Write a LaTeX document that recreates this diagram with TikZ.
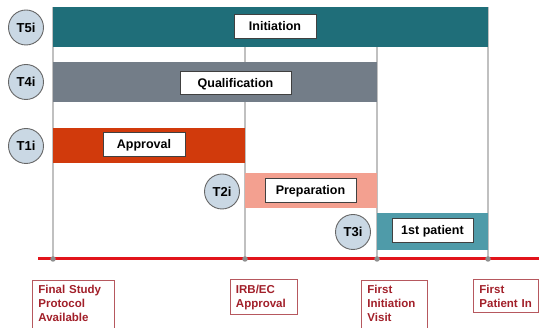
\documentclass[tikz,border=0pt]{standalone}
\usepackage{fontspec}
\setmainfont{Liberation Sans}
\begin{document}
\begin{tikzpicture}[x=1pt,y=-1pt,
  tag/.style={circle,draw=black!60,line width=0.9pt,fill=tagfill,minimum size=35pt,inner sep=0pt,text height=9.5pt,text depth=0pt,font=\bfseries\fontsize{13}{14}\selectfont},
  lbl/.style={rectangle,draw=black!75,line width=0.9pt,fill=white,minimum height=23.5pt,inner sep=0pt,text height=9pt,text depth=0pt,font=\bfseries\fontsize{12.5}{14}\selectfont},
  mile/.style={rectangle,draw=mileborder,line width=0.9pt,fill=white,anchor=north west,align=left,inner xsep=6pt,inner ysep=5pt,text=miletext,font=\bfseries\fontsize{11.5}{14}\selectfont},
  vline/.style={draw=vgray,line width=1.4pt},
  dot/.style={circle,fill=dotgray,inner sep=0pt,minimum size=5.5pt}]
\definecolor{tagfill}{HTML}{CAD8E4}
\definecolor{cteal}{HTML}{1F6E79}
\definecolor{cgray}{HTML}{737D88}
\definecolor{cred}{HTML}{D13A0C}
\definecolor{csalmon}{HTML}{F3A090}
\definecolor{cteal2}{HTML}{4F9BA9}
\definecolor{mileborder}{HTML}{B6585E}
\definecolor{miletext}{HTML}{A2202A}
\definecolor{vgray}{HTML}{C0C0C0}
\definecolor{dotgray}{HTML}{8E8E8E}
\definecolor{redline}{HTML}{E2141B}
\useasboundingbox (0,0) rectangle (539,328);
% vertical milestone lines
\coordinate (t1) at (53,7);
\coordinate (t2) at (245,47);
\coordinate (t3) at (377,47);
\coordinate (t4) at (488,7);
\coordinate (m1) at (53,259);
\coordinate (m2) at (245,259);
\coordinate (m3) at (377,259);
\coordinate (m4) at (488,259);
\draw[vline] (t1) -- (m1);
\draw[vline] (t2) -- (m2);
\draw[vline] (t3) -- (m3);
\draw[vline] (t4) -- (m4);
% bars
\fill[cteal] (53,7) rectangle (488,47);
\fill[cgray] (53,62) rectangle (377,102);
\fill[cred] (53,128) rectangle (245,163);
\fill[csalmon] (245,173) rectangle (377,208);
\fill[cteal2] (377,213) rectangle (488,250);
% bar labels
\node[lbl,minimum width=82pt] (init) at (275,26.5) {Initiation};
\node[lbl,minimum width=111pt] (qual) at (235.5,83) {Qualification};
\node[lbl,minimum width=82pt] (appr) at (144,144.5) {Approval};
\node[lbl,minimum width=91pt] (prep) at (310.5,190.5) {Preparation};
\node[lbl,minimum width=81pt] (pat) at (432.5,230.5) {1st patient};
% tags
\node[tag] (T5) at (26,27.5) {T5i};
\node[tag] (T4) at (26,82) {T4i};
\node[tag] (T1) at (26,146) {T1i};
\node[tag] (T2) at (222,191.5) {T2i};
\node[tag] (T3) at (353,232) {T3i};
% timeline
\coordinate (ls) at (38,259);
\coordinate (le) at (539,259);
\draw[draw=redline,line width=3pt] (ls) -- (le);
\node[dot] (d1) at (m1) {};
\node[dot] (d2) at (m2) {};
\node[dot] (d3) at (m3) {};
\node[dot] (d4) at (m4) {};
% milestone labels
\node[mile,text width=70pt] (L1) at (32,280) {Final Study\\Protocol\\Available\strut};
\node[mile,text width=55pt] (L2) at (229.5,279.5) {IRB/EC\\Approval};
\node[mile,text width=54pt] (L3) at (361,280) {First\\Initiation\\Visit\strut};
\node[mile,text width=53pt] (L4) at (473,279.5) {First\\Patient In};
\end{tikzpicture}
\end{document}
